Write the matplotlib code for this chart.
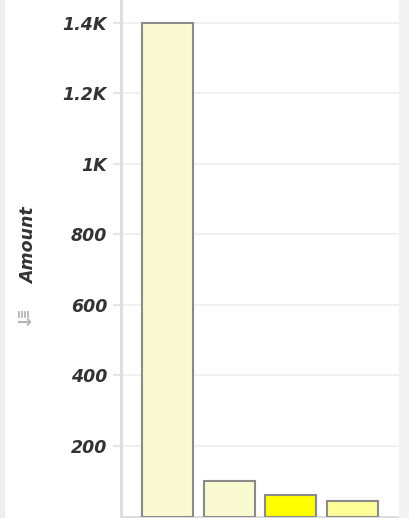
# Amount by category - single bar chart, cropped view (no x labels shown)

import matplotlib
matplotlib.use("Agg")
import matplotlib.pyplot as plt
from matplotlib.patches import Rectangle
from matplotlib.lines import Line2D

categories = ["Cat 1", "Cat 2", "Cat 3", "Cat 4"]
amounts = [1400, 100, 61, 45]
bar_colors = ["#fafad2", "#fafad2", "#ffff00", "#ffff99"]
ytick_values = [200, 400, 600, 800, 1000, 1200, 1400]
ytick_labels = ["200", "400", "600", "800", "1K", "1.2K", "1.4K"]

W, H = 410, 518
TEXT_COLOR = "#333333"
label_font = dict(family="DejaVu Sans", size=12.5, weight="bold",
                  style="oblique", color=TEXT_COLOR)

fig = plt.figure(figsize=(W / 100, H / 100), dpi=100)
fig.patch.set_facecolor("white")

# side strips of the surrounding page
fig.patches.append(Rectangle((0, 0), 4 / W, 1, transform=fig.transFigure,
                             color="#efefef", zorder=0))
fig.patches.append(Rectangle((399 / W, 0), 11 / W, 1, transform=fig.transFigure,
                             color="#f3f3f3", zorder=0))

ax = fig.add_axes([121 / W, 1.5 / H, 278 / W, 1 - 1.5 / H])
ax.set_facecolor("white")

x = list(range(len(categories)))
ax.bar(x, amounts, width=0.83, color=bar_colors, edgecolor="#8a8a8a",
       linewidth=1.5, zorder=3)

ax.set_xlim(-0.765, 3.765)
ax.set_ylim(0, 1465)
ax.set_xticks([])
ax.set_yticks(ytick_values)
ax.set_yticklabels(ytick_labels, **label_font)
ax.tick_params(axis="y", length=6, width=1.5, color="#e6e6e6", pad=4)
ax.grid(axis="y", color="#f0f0f0", linewidth=1.5, zorder=0)

for side in ["top", "right"]:
    ax.spines[side].set_visible(False)
for side in ["left", "bottom"]:
    ax.spines[side].set_color("#dddddd")
    ax.spines[side].set_linewidth(2.2)

fig.text(29 / W, 1 - 246 / H, "Amount", rotation=90, ha="center", va="center",
         **label_font)

# small sort icon under the axis title
for k in range(4):
    xx = (19 + k * 3) / W
    fig.lines.append(Line2D([xx, xx], [1 - 311.5 / H, 1 - 317 / H],
                            transform=fig.transFigure, color="#b5b5b5", lw=1.3))
fig.text(24.5 / W, 1 - 323 / H, "→", ha="center", va="center", fontsize=13,
         fontweight="bold", color="#b5b5b5", family="DejaVu Sans")

fig.savefig("out.png", dpi=100)
